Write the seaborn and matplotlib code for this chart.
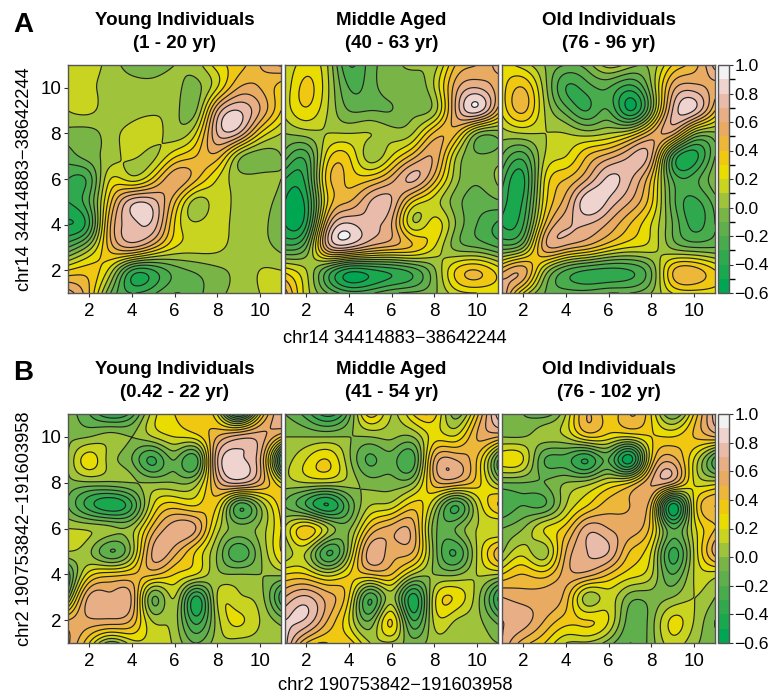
import numpy as np
import matplotlib
matplotlib.use("Agg")
import matplotlib.pyplot as plt
from matplotlib.colors import ListedColormap, BoundaryNorm
from matplotlib.cm import ScalarMappable
import seaborn as sns

# rows run from y=11 (top) to y=1 (bottom), columns x=1..11
a_young = [
 [.12,.15,.05,-.04,-.05,.0,.05,.25,.35,.5,.62],
 [.1,.12,.05,.03,.03,.03,-.03,.2,.5,.5,.35],
 [.1,.12,.04,.05,.08,.04,-.01,.6,.8,.6,.3],
 [-.04,-.03,.05,.15,.15,.05,.2,.7,.7,.3,.1],
 [-.15,-.05,.05,.12,.08,.28,.4,.45,.06,-.06,.0],
 [-.3,-.25,.2,.15,.33,.58,.42,.2,.05,.04,.0],
 [-.4,-.2,.38,.76,.74,.42,.06,.15,.06,.05,-.05],
 [-.5,-.3,.5,.76,.76,.3,.12,.16,.05,.03,-.08],
 [-.2,.05,.45,.6,.42,.2,.15,.13,.05,.04,-.03],
 [.3,.35,.15,-.3,-.3,-.15,-.08,-.02,.03,.1,.1],
 [.65,.4,-.1,-.3,-.22,-.1,-.12,-.03,.03,.1,.15],
]
a_middle = [
 [.1,.25,.1,-.3,-.15,-.05,.03,.05,.4,.5,.65],
 [.12,.33,.12,-.2,-.15,-.05,-.07,.1,.55,.7,.55],
 [.13,.28,.1,-.1,-.1,-.1,-.03,.05,.6,.85,.45],
 [0,.05,.1,.1,.1,.05,.1,.42,.42,0,-.05],
 [-.15,-.25,.25,.3,.05,.2,.45,.58,.12,-.08,-.05],
 [-.4,-.35,.35,.37,.37,.55,.72,.45,.05,-.08,.02],
 [-.5,-.45,.3,.5,.7,.7,.3,.15,-.05,-.15,-.12],
 [-.5,-.4,.55,.82,.72,.6,.13,.25,0,-.2,-.32],
 [-.25,-.1,.6,.7,.55,.47,.38,.2,-.03,-.1,-.2],
 [.25,.1,-.2,-.45,-.42,-.35,-.25,-.02,.3,.4,.25],
 [.55,.15,-.1,-.25,-.22,-.12,-.08,-.02,.15,.2,.2],
]
a_old = [
 [.25,.15,0,-.1,-.05,.15,.05,.03,.3,.45,.75],
 [.25,.4,.05,-.3,-.25,-.2,-.35,-.02,.55,.65,.55],
 [.22,.42,.1,-.15,-.3,-.2,-.5,-.05,.7,.8,.4],
 [.05,.1,.1,.1,.05,.1,.2,.5,.55,.05,-.02],
 [-.1,-.25,.1,.2,.4,.55,.7,.62,-.25,-.45,-.1],
 [-.25,-.42,.2,.4,.6,.82,.72,.4,-.2,-.25,-.02],
 [-.35,-.38,.25,.55,.88,.78,.6,.33,-.15,-.33,-.15],
 [-.4,-.3,.4,.68,.7,.58,.4,.2,-.1,-.33,-.2],
 [-.15,0,.55,.55,.45,.3,.2,.15,-.02,-.1,-.1],
 [.45,.55,.1,-.2,-.3,-.33,-.3,-.1,.38,.45,.3],
 [.72,.2,-.1,-.15,-.15,-.1,-.1,0,.2,.25,.25],
]
b_young = [
 [-.05,-.2,-.4,-.25,.15,.3,.35,.2,-.45,.25,.7],
 [-.02,0,.05,0,.1,.2,.25,.5,.65,.65,.4],
 [0,.25,.05,-.1,-.32,-.1,-.25,.68,.82,.62,-.4],
 [-.03,-.02,-.02,0,0,0,.05,.55,.72,.55,.2],
 [-.1,-.35,-.48,-.3,.2,.35,.3,.3,-.25,0,.35],
 [.1,.08,.03,.05,.45,.66,.6,.15,-.05,.03,.3],
 [.1,.02,-.2,.05,.62,.55,.3,0,-.28,-.02,.3],
 [-.25,.25,.35,.4,.42,.3,.2,.03,0,0,.03],
 [-.05,.62,.63,.58,-.1,.1,-.42,.1,.12,.05,-.35],
 [.5,.58,.58,.48,.08,.05,-.35,.05,.22,.1,-.05],
 [.62,.3,-.05,.15,.15,.08,-.1,.05,.05,.05,0],
]
b_middle = [
 [-.1,-.25,-.45,-.15,.35,.1,.3,.35,-.05,.35,.85],
 [0,0,0,0,0,.02,0,.25,.22,.5,.5],
 [.05,.2,.3,.03,-.22,-.15,-.25,.5,.6,.4,-.2],
 [.05,.1,.1,.05,-.05,-.05,0,.45,.5,.35,.05],
 [-.1,-.3,-.5,-.2,.1,.15,.35,.1,-.3,.1,.4],
 [.1,.35,.1,-.02,.4,.55,.55,-.05,-.1,.1,.1],
 [.02,.1,-.3,.05,.65,.55,.5,-.03,-.3,.1,.45],
 [.3,.3,.15,.3,.4,.4,.1,0,-.02,.1,.1],
 [.6,.72,.55,.3,-.28,.05,-.45,.15,.28,.05,-.4],
 [.8,.78,.5,.2,-.1,.3,-.3,.12,.1,.03,-.15],
 [.85,.4,.3,.35,.1,.08,-.05,.05,.03,.02,0],
]
b_old = [
 [-.1,-.1,-.15,.1,.5,.35,.5,.3,-.1,.3,.75],
 [0,0,.05,.1,.3,.25,.2,.3,.3,.4,.5],
 [.25,.2,-.2,-.25,-.4,-.2,-.55,.3,.55,.2,-.25],
 [-.1,-.1,-.1,0,.05,.2,.3,.6,.55,.2,.15],
 [-.3,-.2,-.2,.1,.3,.45,.5,.4,-.55,.2,.5],
 [-.1,0,.2,.35,.65,.6,.55,.35,-.2,.15,.4],
 [-.02,.15,.05,.5,.7,.7,.4,.2,-.33,.1,.55],
 [.3,.4,.35,.55,.55,.4,.25,.12,-.2,.1,.15],
 [.6,.55,.55,.45,.05,.15,-.05,-.05,0,.1,0],
 [.7,.65,.5,.35,.3,.2,-.15,-.05,.22,.1,-.1],
 [.7,.45,.3,.1,.08,-.05,-.2,-.05,.15,.03,-.05],
]
titles_a = ["Young Individuals\n(1 - 20 yr)", "Middle Aged\n(40 - 63 yr)", "Old Individuals\n(76 - 96 yr)"]
titles_b = ["Young Individuals\n(0.42 - 22 yr)", "Middle Aged\n(41 - 54 yr)", "Old Individuals\n(76 - 102 yr)"]
label_a = "chr14 34414883\u221238642244"
label_b = "chr2 190753842\u2212191603958"
band_colors = ["#00a651","#1aa84f","#30a94e","#48ac4d","#5fb04c","#78b446","#9fc33a","#c8d420",
               "#e8dc00","#f0c812","#edb83a","#e9ab62","#e8ae85","#e9bbaa","#eed3cf","#f2f2f2"]
tick_labels = ["\u22120.6", "\u22120.4", "\u22120.2", "0.0", "0.2", "0.4", "0.6", "0.8", "1.0"]
levels = np.round(np.arange(-0.6, 1.01, 0.1), 1)

sns.set_theme(style="white")
plt.rcParams["font.family"] = ["Liberation Sans", "DejaVu Sans"]
plt.rcParams["text.color"] = "black"
plt.rcParams["axes.labelcolor"] = "black"
plt.rcParams["xtick.color"] = "black"
plt.rcParams["ytick.color"] = "black"
plt.rcParams["contour.negative_linestyle"] = "solid"
cmap = ListedColormap(sns.color_palette(band_colors))
norm = BoundaryNorm(levels, cmap.N)


def spline_matrix(n, t):
    """Natural cubic spline weights from n integer knots to positions t."""
    A = np.zeros((n, n)); B = np.zeros((n, n))
    A[0, 0] = A[-1, -1] = 1
    for i in range(1, n - 1):
        A[i, i-1:i+2] = [1, 4, 1]
        B[i, i-1:i+2] = [6, -12, 6]
    M = np.linalg.solve(A, B)
    W = np.zeros((len(t), n))
    for k, v in enumerate(t):
        i = min(int(v), n - 2); u = v - i
        W[k, i] += 1 - u; W[k, i+1] += u
        W[k] += ((1-u)**3 - (1-u)) / 6 * M[i] + (u**3 - u) / 6 * M[i+1]
    return W


fine = np.linspace(1, 11, 301)
W = spline_matrix(11, fine - 1)

W_PX, H_PX = 772, 696
fig = plt.figure(figsize=(W_PX/100, H_PX/100), dpi=100)


def axes_px(x0, x1, y0, y1):
    return fig.add_axes([x0/W_PX, 1 - y1/H_PX, (x1-x0)/W_PX, (y1-y0)/H_PX])


def draw_row(panels, titles, label, y0, y1, letter, letter_y, title_y, label_y):
    for idx, (vals, title, (x0, x1)) in enumerate(zip(panels, titles, [(68, 281), (285, 498), (502, 715)])):
        ax = axes_px(x0, x1, y0, y1)
        grid = np.array(vals)[::-1]
        Z = np.clip(W @ grid @ W.T, -0.6, 1.0)
        ax.contourf(fine, fine, Z, levels=levels, cmap=cmap, norm=norm)
        ax.contour(fine, fine, Z, levels=levels[1:-1], colors="#222222", linewidths=0.85, linestyles="solid")
        ax.set_xlim(1, 11); ax.set_ylim(1, 11)
        ax.set_xticks([2, 4, 6, 8, 10])
        ax.tick_params(axis="x", length=3, width=0.8, labelsize=13.5, color="#333333", pad=4, bottom=True)
        if idx == 0:
            ax.set_yticks([2, 4, 6, 8, 10])
            ax.tick_params(axis="y", length=3, width=0.8, labelsize=13.5, color="#333333", pad=2, left=True)
            ax.set_ylabel(label, fontsize=13.2, labelpad=5)
        else:
            ax.set_yticks([])
        for s in ax.spines.values():
            s.set_color("#555555"); s.set_linewidth(1.0)
        fig.text((x0+x1)/2/W_PX, 1 - title_y/H_PX, title, ha="center", va="center",
                 fontsize=13.5, fontweight="bold", linespacing=1.4)
    fig.text(13/W_PX, 1 - letter_y/H_PX, letter, fontsize=20, fontweight="bold", va="center")
    fig.text(395/W_PX, 1 - label_y/H_PX, label, ha="center", va="center", fontsize=13.2)
    cax = axes_px(718, 729, y0, y1)
    cb = fig.colorbar(ScalarMappable(norm=norm, cmap=cmap), cax=cax, ticks=levels[::2], spacing="proportional")
    cb.ax.minorticks_off()
    cb.ax.set_yticks(levels[::2], tick_labels)
    cb.ax.tick_params(length=3, width=0.8, labelsize=12.6, pad=1, right=True, color="#333333")
    cb.outline.set_edgecolor("#555555"); cb.outline.set_linewidth(1.0)


draw_row([a_young, a_middle, a_old], titles_a, label_a, 65, 293, "A", 25, 32, 339)
draw_row([b_young, b_middle, b_old], titles_b, label_b, 414, 643, "B", 373, 381, 686)
fig.savefig("out.png", dpi=100)
